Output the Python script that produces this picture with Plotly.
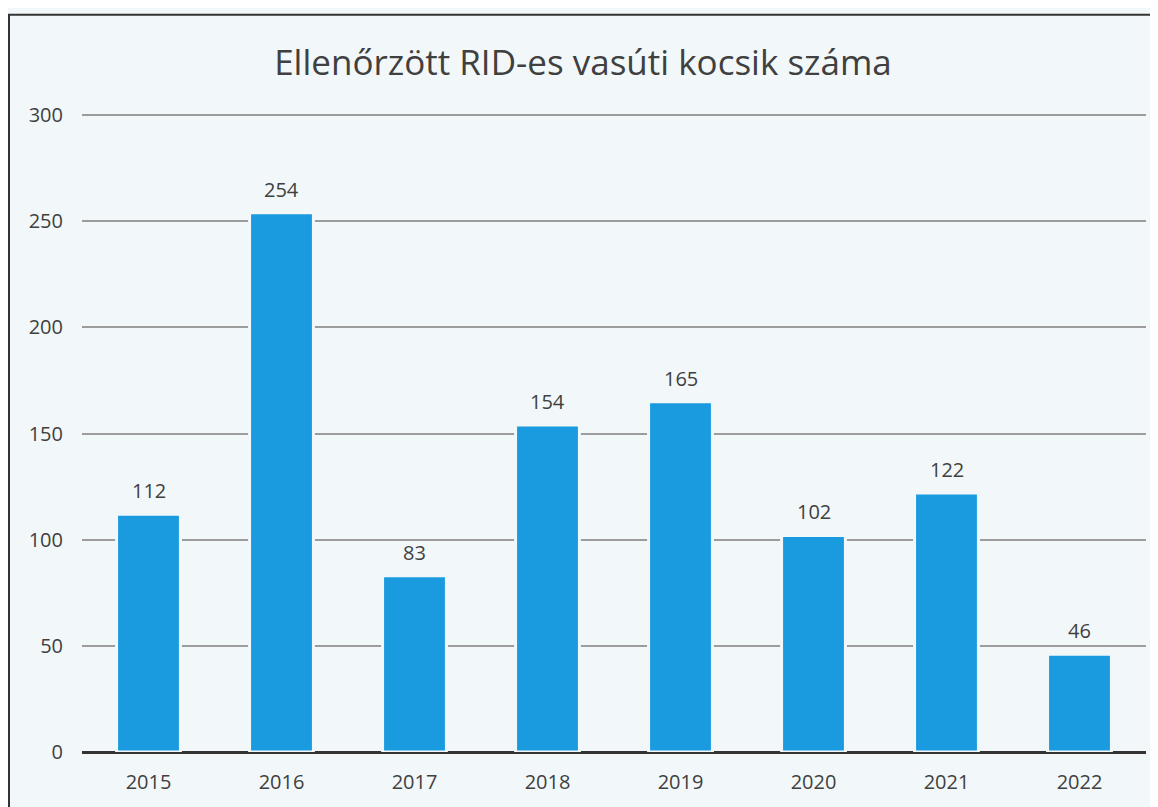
import plotly.graph_objects as go

years = ["2015", "2016", "2017", "2018", "2019", "2020", "2021", "2022"]
counts = [112, 254, 83, 154, 165, 102, 122, 46]
y_ticks = [0, 50, 100, 150, 200, 250, 300]
title_text = "Ellenőrzött RID-es vasúti kocsik száma"

fig = go.Figure()
fig.add_trace(go.Bar(
    x=years, y=counts,
    marker=dict(color="#1a9be0", line=dict(color="#f2f8fa", width=3)),
    width=0.48,
))

for i, (yr, v) in enumerate(zip(years, counts)):
    fig.add_annotation(x=i, y=v, xref="x", yref="y", text=str(v), showarrow=False,
                       yanchor="bottom", yshift=8,
                       font=dict(family="Open Sans", size=20, color="#404040"))

fig.update_layout(
    width=1150, height=799,
    margin=dict(l=74, r=12, t=105, b=50),
    paper_bgcolor="#f2f8fa", plot_bgcolor="#f2f8fa",
    title=dict(text=title_text, x=0.5, xanchor="center", y=0.932, yanchor="middle",
               font=dict(family="Open Sans", size=35, color="#404040")),
    showlegend=False,
    xaxis=dict(type="category", showgrid=False, showline=False, zeroline=False,
               tickfont=dict(family="Open Sans", size=20, color="#404040"),
               ticks="", ticklabelstandoff=16),
    yaxis=dict(range=[0, 301], tickvals=y_ticks, showgrid=True, gridcolor="#9c9c9c", gridwidth=1.5,
               zeroline=True, zerolinecolor="#333333", zerolinewidth=2.5,
               showline=False, ticks="", ticklabelstandoff=18,
               tickfont=dict(family="Open Sans", size=20, color="#404040")),
    shapes=[dict(type="rect", xref="paper", yref="paper",
                 x0=(1 - 74) / 1064, x1=1.2, y0=-0.2, y1=(749 - 6) / 644,
                 line=dict(color="#333333", width=2), fillcolor="rgba(0,0,0,0)", layer="above")],
)

fig.write_html("out.html")
